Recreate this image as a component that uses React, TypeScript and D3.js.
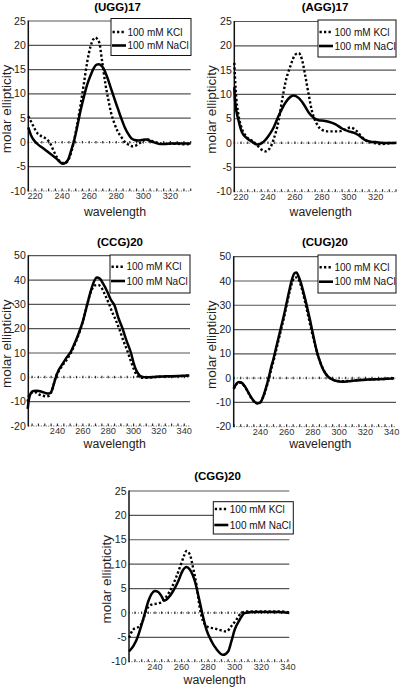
import React from 'react';
import * as d3 from 'd3';

type Pt = [number, number];

// ---------- data: [wavelength (nm), molar ellipticity] ----------
const UGG_KCL: Pt[] = [
  [215, 5.4], [217, 4.3], [219, 3.2], [222, 1.8], [224, 1.4], [226, 1.1], [229, 0.6], [231, -0.1],
  [233.5, -1.6], [236, -3.0], [238, -3.8], [240, -4.2], [242.5, -4.2], [245, -3.4], [247, -1.8],
  [248.5, 0], [251, 3.5], [253.5, 7.5], [256, 12], [258.5, 16.5], [261, 19.8], [263, 21.2],
  [264.5, 21.6], [266, 21.3], [267.5, 20.5], [269.5, 16.8], [272, 12], [274, 9], [276, 6.3],
  [278.5, 4], [281, 2.3], [284, 1], [287, -0.1], [290, -0.6], [292, -0.8], [294, -0.7], [296, -0.4],
  [298, 0], [301, 0.5], [304, 0.6], [307, 0.2], [310, -0.1], [315, -0.3], [320, -0.3], [325, -0.3],
  [330, -0.4], [335, -0.3],
];
const UGG_NACL: Pt[] = [
  [215, 3.1], [217, 1.5], [219, 0.5], [222.5, -0.5], [226, -1.2], [231, -2.3], [236, -3.4],
  [238.6, -4.1], [240.5, -4.4], [242.5, -4.2], [244.8, -3.3], [246.5, -1.8], [248.5, 0], [251, 3],
  [253.5, 6.4], [256, 9.3], [258.5, 11.9], [261, 13.8], [263.4, 15.3], [265.5, 16], [267.2, 16.1],
  [269, 15.8], [271, 15], [273.5, 13.3], [276, 11.2], [278.5, 9.1], [281, 7.1], [283.5, 5.1],
  [286, 3.3], [288.5, 1.9], [291, 0.9], [293.5, 0.5], [296, 0.4], [299, 0.5], [302, 0.6],
  [305, 0.3], [308, 0], [312, -0.3], [316, -0.3], [320, -0.2], [325, -0.2], [330, -0.2], [335, -0.2],
];

const AGG_KCL: Pt[] = [
  [215, 16.5], [216, 11], [218.2, 5.6], [220.7, 2.9], [224.4, 1.2], [228.1, 0.5], [231.8, -0.4],
  [235.5, -1.4], [238, -1.7], [241.8, -0.9], [244.2, 0.8], [247.9, 4.6], [250.4, 8.7], [252.9, 12.4],
  [256.6, 15.8], [260.3, 18.2], [262.7, 18.5], [265.2, 17.2], [267.7, 13.8], [270.2, 10],
  [272.6, 6.6], [276.3, 3.9], [280.1, 2.7], [285, 2.4], [292.4, 2.4], [297.5, 2.8], [301.2, 3.2],
  [306.1, 2.4], [309.8, 1.2], [314.7, 0.3], [319, 0], [324.6, -0.2], [329, -0.1], [335, 0.1],
];
const AGG_NACL: Pt[] = [
  [215, 11.5], [215.7, 8.3], [218.2, 4.6], [220.7, 2.2], [224.4, 1.0], [228.1, 0.3], [231.8, -0.3],
  [235.5, 0], [240.5, 1.5], [244.2, 3.2], [247.9, 5.6], [252.9, 8.3], [256.6, 9.5], [259, 9.8],
  [262.7, 9.3], [266.5, 8], [270.2, 6.3], [273.9, 5.2], [277.6, 4.7], [281.3, 4.6], [285, 4.4],
  [289.9, 3.9], [294.9, 3], [299.9, 2.4], [304, 2.1], [307.3, 1.6], [310, 1], [312.2, 0.6],
  [316, 0.3], [319.7, 0.2], [327, 0], [335, 0],
];

const CCG_KCL: Pt[] = [
  [216.5, -10], [217.5, -7.5], [219, -6.5], [222, -6], [225, -7], [228, -7.5], [231, -7.8],
  [233.5, -7.5], [235.5, -5.5], [237, -3], [238.5, 0], [241, 2.5], [244, 5], [247, 7], [250.5, 10],
  [254, 14], [257, 18], [259.5, 22], [262, 27], [264.5, 32], [267, 36], [269.5, 37.8], [272, 38],
  [274.5, 37], [277, 34.5], [280, 31], [283, 27], [286, 23.5], [289, 19.5], [292, 15], [295, 11],
  [298, 6.5], [300.5, 3], [302.5, 1], [305, 0], [310, -0.2], [315, 0], [320, 0.2], [325, 0.3],
  [330, 0.4], [335, 0.5], [340, 0.6], [344, 0.7],
];
const CCG_NACL: Pt[] = [
  [216.5, -13], [217.5, -9], [219, -6.5], [221, -5.6], [224, -5.5], [228, -6.0], [231, -6.5],
  [233.5, -6.6], [235.5, -5.5], [237, -3], [238.7, 0], [241, 3], [244, 5.5], [247, 8], [250.5, 10.5],
  [254, 14.5], [257, 18.5], [260, 23], [263, 29], [266, 35], [268.5, 39], [271, 41], [273.5, 40.5],
  [276, 38.5], [279.5, 35], [282, 32], [285, 29.5], [288, 24.5], [291, 20.5], [294.5, 15], [298, 10],
  [300, 6], [302, 3], [304, 1.3], [306, 0.4], [310, 0], [315, 0.1], [320, 0.3], [325, 0.4],
  [330, 0.5], [335, 0.6], [340, 0.7], [344, 0.8],
];

const CUG_KCL: Pt[] = [
  [219.7, -4.5], [221.5, -2.7], [223.5, -1.8], [225.5, -2], [228, -3.4], [230, -5.2], [232, -7.2],
  [234, -8.9], [236, -10], [238, -10.4], [240, -10], [242, -8], [244, -5], [246.5, -0.3], [248, 3],
  [250, 7], [252, 11.5], [254, 16], [256, 20.5], [258, 25], [260, 30], [262, 35], [264, 39],
  [266, 41.3], [268, 41.5], [270, 39.5], [272, 36], [274, 31.5], [276.5, 25.5], [279, 19.5],
  [281.5, 14], [284, 9], [286, 6], [288, 3.5], [290.5, 1.3], [293, 0], [296, -0.8], [299, -1.2],
  [303, -1.3], [308, -1.1], [313, -0.9], [318, -0.7], [323, -0.6], [328, -0.5], [333, -0.4],
  [338, -0.2], [342, -0.1],
];
const CUG_NACL: Pt[] = [
  [219.7, -4.3], [221.5, -2.5], [223.5, -1.6], [225.5, -1.8], [228, -3.2], [230, -5], [232, -7],
  [234, -8.7], [236, -9.9], [238, -10.3], [240, -10], [242, -7.8], [244, -4.5], [246.3, 0], [248, 4],
  [250, 8], [252, 12.5], [254, 17], [256, 21.5], [258, 26], [260, 31], [262, 36], [264, 40.5],
  [266, 43.2], [267.5, 43.5], [269, 42], [271, 39], [273, 35], [275.5, 29.5], [278, 23.5],
  [280.5, 17], [283, 11], [285, 7.5], [287, 4.5], [289.5, 2], [292, 0.4], [295, -0.6], [298, -1.2],
  [302, -1.5], [307, -1.3], [312, -1.0], [317, -0.8], [322, -0.6], [327, -0.5], [332, -0.4],
  [337, -0.3], [342, 0],
];

const CGG_KCL: Pt[] = [
  [220.5, -5.1], [223.7, -3.4], [228.7, -2.7], [231.2, -1.4], [233.7, 0.7], [237.5, 1.7],
  [241.2, 1.9], [245, 2.2], [248.7, 3.4], [252.5, 5.1], [256.2, 7.5], [260, 10.3], [262, 11.8],
  [263.7, 12.7], [266.2, 12], [268.7, 9.2], [271.2, 5.8], [273.7, 1], [276.2, -1.7], [280, -2.9],
  [285, -3.2], [290, -3.6], [293.7, -3.8], [297.5, -2.7], [301.2, -1.4], [305, 0], [308.7, 0.3],
  [320, 0.3], [335, 0.3], [341, 0.1],
];
const CGG_NACL: Pt[] = [
  [220.5, -7.9], [223.7, -6.8], [226.2, -5.5], [230, -2.4], [232.5, 0], [235, 2.4], [237.5, 3.9],
  [240, 4.5], [242.5, 4.3], [245, 3.4], [247, 2.5], [250, 3.1], [253.7, 4.5], [257.5, 6.5],
  [260.7, 8.6], [263.7, 9.4], [266.2, 8.9], [270, 6.5], [273, 3.1], [275.5, 0], [278.7, -3.4],
  [282.5, -5.8], [286.2, -7.4], [291.2, -8.6], [295, -7.9], [297.5, -5.8], [300, -3.4],
  [303.7, -1.4], [307.5, 0], [315, 0.2], [332.5, 0.2], [341, 0],
];

const SERIES_LABELS = ['100 mM KCl', '100 mM NaCl'];
const X_TICKS_17 = [220, 240, 260, 280, 300, 320];
const X_TICKS_20 = [240, 260, 280, 300, 320, 340];
const Y_TICKS_SMALL = [-10, -5, 0, 5, 10, 15, 20, 25];
const Y_TICKS_LARGE = [-20, -10, 0, 10, 20, 30, 40, 50];
const X_TITLE = 'wavelength';
const Y_TITLE = 'molar ellipticity';

// ---------- layout ----------
interface PanelDef {
  title: string;
  kcl: Pt[];
  nacl: Pt[];
  xDom: [number, number];
  xTicks: number[];
  yTicks: number[];
  l: number; r: number; t: number; b: number;
  titleX: number; titleY: number;
  yLabX: number; xLabY: number;
  lg: { x: number; y: number; w: number; h: number; r1: number; r2: number };
}

const PANELS: PanelDef[] = [
  {
    title: '(UGG)17', kcl: UGG_KCL, nacl: UGG_NACL, xDom: [215, 335], xTicks: X_TICKS_17, yTicks: Y_TICKS_SMALL,
    l: 28.3, r: 190.7, t: 21, b: 191, titleX: 117.5, titleY: 10.5, yLabX: 6.5, xLabY: 214,
    lg: { x: 111, y: 18.5, w: 80, h: 37, r1: 32, r2: 45.5 },
  },
  {
    title: '(AGG)17', kcl: AGG_KCL, nacl: AGG_NACL, xDom: [215, 335], xTicks: X_TICKS_17, yTicks: Y_TICKS_SMALL,
    l: 234.3, r: 396, t: 21.5, b: 191.7, titleX: 325, titleY: 11, yLabX: 211, xLabY: 214.5,
    lg: { x: 318, y: 20, w: 78, h: 37, r1: 32, r2: 46 },
  },
  {
    title: '(CCG)20', kcl: CCG_KCL, nacl: CCG_NACL, xDom: [217, 344.5], xTicks: X_TICKS_20, yTicks: Y_TICKS_LARGE,
    l: 28.3, r: 190, t: 255.7, b: 426, titleX: 120, titleY: 245.5, yLabX: 6.5, xLabY: 446.2,
    lg: { x: 110, y: 255, w: 80, h: 38, r1: 266.7, r2: 281 },
  },
  {
    title: '(CUG)20', kcl: CUG_KCL, nacl: CUG_NACL, xDom: [219.7, 343.3], xTicks: X_TICKS_20, yTicks: Y_TICKS_LARGE,
    l: 233.7, r: 396, t: 256.7, b: 426.7, titleX: 325, titleY: 245.5, yLabX: 211, xLabY: 446.9,
    lg: { x: 318, y: 255, w: 78, h: 38, r1: 267.3, r2: 281.7 },
  },
  {
    title: '(CGG)20', kcl: CGG_KCL, nacl: CGG_NACL, xDom: [220.5, 341], xTicks: X_TICKS_20, yTicks: Y_TICKS_SMALL,
    l: 129, r: 289.3, t: 491, b: 661.7, titleX: 217.5, titleY: 480, yLabX: 106.5, xLabY: 682,
    lg: { x: 213.3, y: 501.7, w: 80, h: 32.3, r1: 509, r2: 525 },
  },
];

const SANS = "'Liberation Sans', Arial, Helvetica, sans-serif";
const NARROW = "'Liberation Sans Narrow', 'Arial Narrow', 'Liberation Sans', Arial, sans-serif";
const DOT = '2.3,2.2';

function Panel({ p }: { p: PanelDef }) {
  const x = d3.scaleLinear().domain(p.xDom).range([p.l, p.r]);
  const yMin = p.yTicks[0];
  const yMax = p.yTicks[p.yTicks.length - 1];
  const y = d3.scaleLinear().domain([yMin, yMax]).range([p.b, p.t]);
  const line = d3.line<Pt>().x((d) => x(d[0])).y((d) => y(d[1])).curve(d3.curveMonotoneX);
  const minor = d3.range(Math.ceil(p.xDom[0] / 5) * 5, p.xDom[1] + 0.001, 5);
  const y0 = y(0);

  return (
    <g>
      {/* grid lines */}
      {p.yTicks.filter((t) => t !== 0 && t !== yMin).map((t) => (
        <line key={'g' + t} x1={p.l} x2={p.r} y1={y(t)} y2={y(t)} stroke="#555" strokeWidth={1.2} />
      ))}
      {/* zero line (dotted) */}
      <line x1={p.l} x2={p.r} y1={y0} y2={y0} stroke="#444" strokeWidth={1} strokeDasharray="1,2" />
      {minor.map((m) => (
        <line key={'z' + m} x1={x(m)} x2={x(m)} y1={y0 - 1.5} y2={y0 + 1} stroke="#333" strokeWidth={1.2} />
      ))}
      {/* bottom axis */}
      <line x1={p.l} x2={p.r} y1={p.b} y2={p.b} stroke="#555" strokeWidth={1} strokeDasharray="1,1.5" />
      {minor.map((m) => (
        <line key={'b' + m} x1={x(m)} x2={x(m)} y1={p.b - 2.5} y2={p.b} stroke="#333" strokeWidth={1.2} />
      ))}
      {/* left axis */}
      <line x1={p.l} x2={p.l} y1={p.t - 0.5} y2={p.b + 0.5} stroke="#111" strokeWidth={1.5} />
      {/* y tick labels */}
      {p.yTicks.map((t) => (
        <text key={'yl' + t} x={p.l - 2.5} y={y(t) + 3.6} textAnchor="end" fontFamily={NARROW} fontSize={10.5} fill="#222">
          {t}
        </text>
      ))}
      {/* x tick labels */}
      {p.xTicks.map((t) => (
        <text key={'xl' + t} x={x(t)} y={p.b + 8.4} textAnchor="middle" fontFamily={NARROW} fontSize={9.2} fill="#333">
          {t}
        </text>
      ))}
      {/* data */}
      <path d={line(p.nacl) || ''} fill="none" stroke="#000" strokeWidth={2.5} strokeLinejoin="round" />
      <path d={line(p.kcl) || ''} fill="none" stroke="#000" strokeWidth={2.4} strokeDasharray={DOT} />
      {/* legend */}
      <rect x={p.lg.x} y={p.lg.y} width={p.lg.w} height={p.lg.h} fill="#fff" stroke="#111" strokeWidth={1} />
      <line x1={p.lg.x + 1.5} x2={p.lg.x + 14} y1={p.lg.r1} y2={p.lg.r1} stroke="#000" strokeWidth={2.4} strokeDasharray={DOT} />
      <text x={p.lg.x + 16.5} y={p.lg.r1 + 3.6} fontFamily={SANS} fontSize={10} fill="#111">{SERIES_LABELS[0]}</text>
      <line x1={p.lg.x + 1} x2={p.lg.x + 15} y1={p.lg.r2} y2={p.lg.r2} stroke="#000" strokeWidth={2.6} />
      <text x={p.lg.x + 16.5} y={p.lg.r2 + 3.6} fontFamily={SANS} fontSize={10} fill="#111">{SERIES_LABELS[1]}</text>
      {/* titles */}
      <text x={p.titleX} y={p.titleY} textAnchor="middle" fontFamily={SANS} fontWeight="bold" fontSize={11.5} fill="#000">
        {p.title}
      </text>
      <text x={(p.l + p.r) / 2 + 5.5} y={p.xLabY + 1.5} textAnchor="middle" fontFamily={SANS} fontSize={12.3} fill="#222">
        {X_TITLE}
      </text>
      <text
        transform={`translate(${p.yLabX},${(p.t + p.b) / 2 + 3}) rotate(-90)`}
        textAnchor="middle"
        dy="0.35em"
        fontFamily={SANS}
        fontSize={13.5}
        fill="#222"
      >
        {Y_TITLE}
      </text>
    </g>
  );
}

export default function App() {
  return (
    <svg
      width={404}
      height={688}
      viewBox="0 0 404 688"
      style={{ position: 'absolute', left: 0, top: 0, background: '#fff', display: 'block' }}
    >
      <rect x={0} y={0} width={404} height={688} fill="#fff" />
      {PANELS.map((p) => (
        <Panel key={p.title} p={p} />
      ))}
    </svg>
  );
}
